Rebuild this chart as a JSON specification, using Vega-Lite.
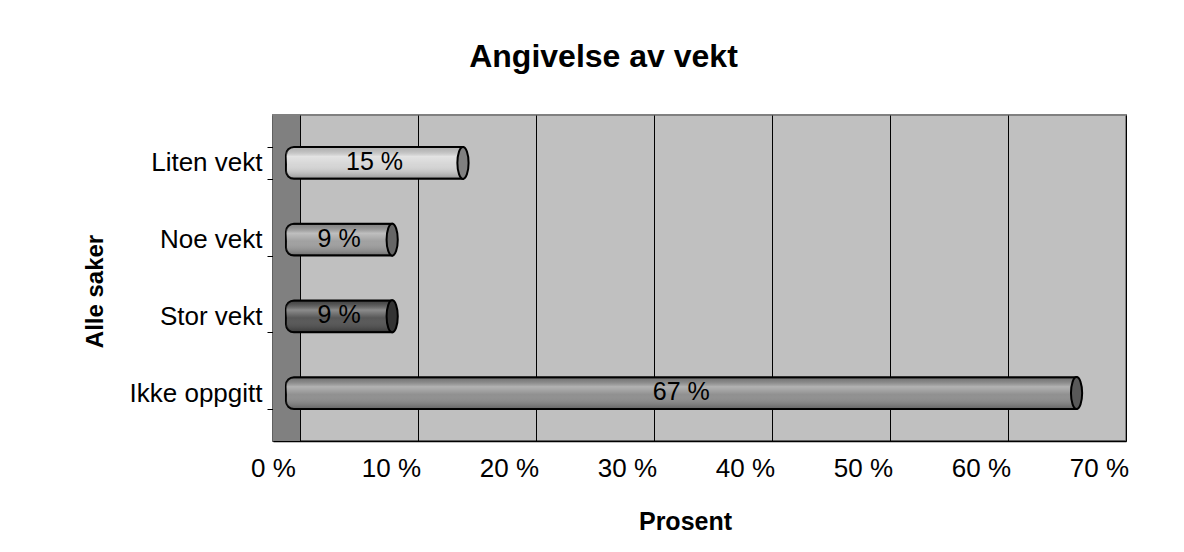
{
  "$schema": "https://vega.github.io/schema/vega-lite/v6.json",
  "width": 853,
  "height": 326,
  "autosize": "none",
  "padding": {"left": 273, "top": 115, "right": 58, "bottom": 111},
  "background": "white",
  "config": {
    "font": "Liberation Sans",
    "view": {"fill": "#c0c0c0", "stroke": "#808080", "strokeWidth": 2}
  },
  "title": {
    "text": "Angivelse av vekt",
    "font": "Liberation Sans",
    "fontSize": 32,
    "fontWeight": "bold",
    "color": "black",
    "anchor": "middle",
    "dx": -96,
    "offset": 28
  },
  "data": {
    "values": [
      {"kat": "Liten vekt", "v": 15, "lbl": "15 %"},
      {"kat": "Noe vekt", "v": 9, "lbl": "9 %"},
      {"kat": "Stor vekt", "v": 9, "lbl": "9 %"},
      {"kat": "Ikke oppgitt", "v": 67, "lbl": "67 %"}
    ]
  },
  "encoding": {
    "y": {
      "field": "kat",
      "type": "nominal",
      "sort": ["Liten vekt", "Noe vekt", "Stor vekt", "Ikke oppgitt"],
      "scale": {"paddingInner": 0.584, "paddingOuter": 0.416},
      "axis": {
        "title": "Alle saker",
        "titleFont": "Liberation Sans",
        "titleFontSize": 24,
        "titleFontWeight": "bold",
        "titleColor": "black",
        "titlePadding": 22,
        "titleY": 176,
        "labelFont": "Liberation Sans",
        "labelFontSize": 26,
        "labelColor": "black",
        "labelPadding": 5,
        "ticks": true,
        "tickBand": "extent",
        "tickSize": 6,
        "tickColor": "black",
        "domainColor": "black",
        "domainWidth": 1.5,
        "grid": false
      }
    }
  },
  "layer": [
    {
      "data": {"values": [{"a": -1.1, "b": 1.19}]},
      "mark": {"type": "rect", "color": "#808080"},
      "encoding": {
        "x": {"field": "a", "type": "quantitative"},
        "x2": {"field": "b"},
        "y": null
      }
    },
    {
      "mark": {
        "type": "bar",
        "stroke": "black",
        "strokeWidth": 2,
        "cornerRadiusTopLeft": 8,
        "cornerRadiusBottomLeft": 8
      },
      "encoding": {
        "x": {
          "field": "v",
          "type": "quantitative",
          "scale": {"domain": [-1.1, 71.19], "nice": false, "zero": false},
          "axis": {
            "values": [0, 10, 20, 30, 40, 50, 60, 70],
            "labelExpr": "datum.value + ' %'",
            "title": "Prosent",
            "titleFont": "Liberation Sans",
            "titleFontSize": 25,
            "titleFontWeight": "bold",
            "titleColor": "black",
            "titleX": 412,
            "titlePadding": 28,
            "labelFont": "Liberation Sans",
            "labelFontSize": 26,
            "labelColor": "black",
            "labelPadding": 14,
            "tickOffset": 14,
            "labelOffset": -27,
            "ticks": false,
            "grid": true,
            "gridColor": "black",
            "gridWidth": 1,
            "domainColor": "black",
            "domainWidth": 1.5
          }
        },
        "color": {
          "field": "kat",
          "type": "nominal",
          "scale": {
            "domain": ["Liten vekt", "Noe vekt", "Stor vekt", "Ikke oppgitt"],
            "range": ["#d4d4d4", "#9c9c9c", "#4e4e4e", "#8a8a8a"]
          },
          "legend": null
        }
      }
    },
    {
      "mark": {
        "type": "bar",
        "cornerRadiusTopLeft": 8,
        "cornerRadiusBottomLeft": 8,
        "fill": {
          "gradient": "linear",
          "x1": 0, "y1": 0, "x2": 0, "y2": 1,
          "stops": [
            {"offset": 0, "color": "rgba(0,0,0,0.15)"},
            {"offset": 0.3, "color": "rgba(255,255,255,0.35)"},
            {"offset": 0.55, "color": "rgba(255,255,255,0.05)"},
            {"offset": 1, "color": "rgba(0,0,0,0.3)"}
          ]
        }
      },
      "encoding": {
        "x": {"field": "v", "type": "quantitative"}
      }
    },
    {
      "mark": {
        "type": "point",
        "filled": true,
        "opacity": 1,
        "stroke": "black",
        "strokeWidth": 2,
        "size": 1024,
        "shape": "M0,-1A0.35,1,0,1,1,0,1A0.35,1,0,1,1,0,-1Z"
      },
      "encoding": {
        "x": {"field": "v", "type": "quantitative"},
        "fill": {
          "field": "kat",
          "type": "nominal",
          "scale": {
            "domain": ["Liten vekt", "Noe vekt", "Stor vekt", "Ikke oppgitt"],
            "range": ["#808080", "#666666", "#333333", "#595959"]
          },
          "legend": null
        }
      }
    },
    {
      "transform": [{"calculate": "datum.v / 2", "as": "mid"}],
      "mark": {"type": "text", "font": "Liberation Sans", "fontSize": 25, "color": "black", "dy": -1},
      "encoding": {
        "x": {"field": "mid", "type": "quantitative"},
        "text": {"field": "lbl"}
      }
    }
  ],
  "resolve": {"scale": {"color": "independent", "fill": "independent"}}
}
